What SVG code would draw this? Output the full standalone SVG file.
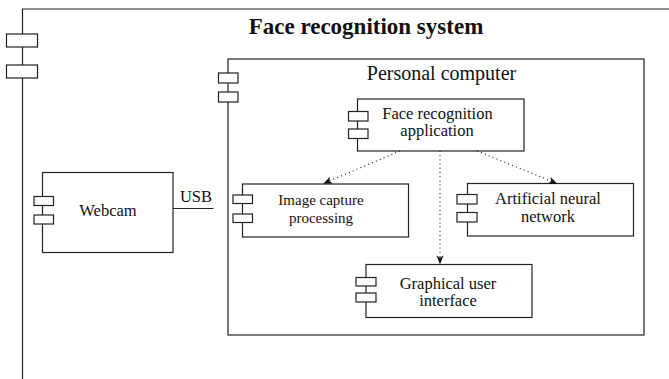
<svg xmlns="http://www.w3.org/2000/svg" width="669" height="379" viewBox="0 0 669 379">
  <style>
    .box { fill: #ffffff; stroke: #222222; stroke-width: 1.2; }
    .port { fill: #ffffff; stroke: #222222; stroke-width: 1.2; }
    .txt { font-family: "Liberation Serif", "Times New Roman", serif; font-size: 16.5px; fill: #111111; text-anchor: middle; }
    .small { font-size: 15px; }
    .title { font-family: "Liberation Serif", "Times New Roman", serif; font-size: 23px; font-weight: bold; fill: #111111; text-anchor: middle; }
    .pc { font-size: 20px; }
    .dep { fill: none; stroke: #222222; stroke-width: 1.2; stroke-dasharray: 1 3.2; marker-end: url(#arrow); }
    .wire { fill: none; stroke: #222222; stroke-width: 1.2; }
  </style>
  <defs>
    <marker id="arrow" viewBox="0 0 10 8" refX="9.5" refY="4" markerWidth="9" markerHeight="7.2" markerUnits="userSpaceOnUse" orient="auto">
      <path d="M0,0 L10,4 L0,8 L2.5,4 z" fill="#111111"/>
    </marker>
  </defs>

  <rect width="669" height="379" fill="#ffffff"/>

  <!-- outer system frame (extends beyond the visible area) -->
  <g id="system">
    <path class="wire" d="M22.5,379 V9 H669"/>
    <rect class="port" x="6.5" y="34" width="31" height="13"/>
    <rect class="port" x="6.5" y="65" width="31" height="13"/>
    <text class="title" x="366" y="34">Face recognition system</text>
  </g>

  <!-- personal computer container -->
  <g id="personal-computer">
    <rect class="box" x="228" y="59" width="416" height="276"/>
    <rect class="port" x="218.5" y="73" width="19.5" height="10"/>
    <rect class="port" x="218.5" y="92" width="19.5" height="10"/>
    <text class="txt pc" x="441.5" y="80">Personal computer</text>
  </g>

  <g id="webcam">
    <rect class="box" x="42.5" y="172.5" width="130.5" height="80"/>
    <rect class="port" x="34" y="196.5" width="19.5" height="9"/>
    <rect class="port" x="34" y="215" width="19.5" height="9"/>
    <text class="txt" x="108" y="215.5">Webcam</text>
  </g>

  <g id="face-recognition-application">
    <rect class="box" x="357.5" y="99" width="166.5" height="52"/>
    <rect class="port" x="348.5" y="111.5" width="19.5" height="9.5"/>
    <rect class="port" x="348.5" y="129" width="19.5" height="9.5"/>
    <text class="txt" x="437.5" y="118.5">Face recognition</text>
    <text class="txt" x="437" y="136">application</text>
  </g>

  <g id="image-capture-processing">
    <rect class="box" x="242.5" y="184" width="166" height="53"/>
    <rect class="port" x="233" y="195" width="19.5" height="8.5"/>
    <rect class="port" x="233" y="214" width="19.5" height="8.5"/>
    <text class="txt small" x="321" y="205">Image capture</text>
    <text class="txt small" x="321" y="223">processing</text>
  </g>

  <g id="artificial-neural-network">
    <rect class="box" x="467.5" y="183.5" width="166" height="52.5"/>
    <rect class="port" x="457" y="194.5" width="20" height="9.5"/>
    <rect class="port" x="457" y="212.5" width="20" height="9.5"/>
    <text class="txt" x="548" y="204">Artificial neural</text>
    <text class="txt" x="548" y="222">network</text>
  </g>

  <g id="graphical-user-interface">
    <rect class="box" x="366" y="264.5" width="166" height="53"/>
    <rect class="port" x="356" y="277.5" width="20" height="8.5"/>
    <rect class="port" x="356" y="293" width="20" height="9"/>
    <text class="txt" x="448" y="288.5">Graphical user</text>
    <text class="txt" x="448" y="306">interface</text>
  </g>

  <!-- connectors -->
  <g id="connectors">
    <line class="wire" x1="173" y1="208.5" x2="213.5" y2="208.5"/>
    <text class="txt" x="196" y="202">USB</text>
    <line class="dep" x1="400" y1="151" x2="323.5" y2="183.5"/>
    <line class="dep" x1="440" y1="151" x2="440" y2="264"/>
    <line class="dep" x1="477" y1="151" x2="557" y2="183.5"/>
  </g>
</svg>
